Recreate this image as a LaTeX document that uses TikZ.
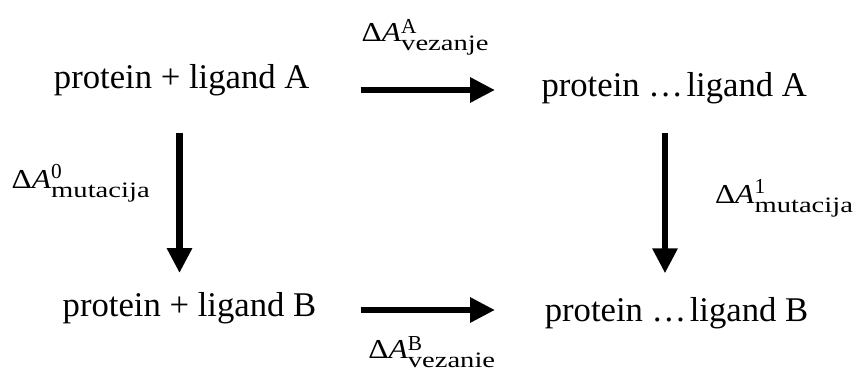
\documentclass[tikz,border=0pt]{standalone}
\usepackage{fontspec}
\setmainfont{Liberation Serif}
\newfontfamily\lblfont[FakeStretch=1.15]{Liberation Serif}
\newfontfamily\subfont[FakeStretch=1.3]{Liberation Serif}
\usetikzlibrary{arrows.meta}
\newcommand{\dAlbl}[3]{{\fontsize{20.5}{24}\lblfont Δ\textit{A}}\rlap{\raisebox{#3}{\fontsize{16}{18}\selectfont #1}}\raisebox{-6.75pt}{\fontsize{16.5}{18}\subfont #2}}
\begin{document}
\begin{tikzpicture}[x=0.75pt,y=-0.75pt,
  every node/.style={inner sep=0pt,outer sep=0pt},
  term/.style={font=\fontsize{26}{30}\selectfont, anchor=base},
  lbl/.style={anchor=base west},
  arr/.style={line width=4.6pt, line cap=butt, -{Triangle[length=18.75pt,width=18pt]}}]
\useasboundingbox (0,0) rectangle (856,372);
\node[term] (pA) at (181.7,88.3) {protein + ligand A};
\node[term] (cA) at (674.2,96) {protein …\hspace{0.1em}ligand A};
\node[term] (pB) at (189.5,316.7) {protein + ligand B};
\node[term] (cB) at (676.5,321.7) {protein …\hspace{0.1em}ligand B};
\coordinate (t1) at (360.7,90);
\coordinate (t2) at (495,90);
\coordinate (b1) at (360.7,310);
\coordinate (b2) at (495,310);
\coordinate (l1) at (179.5,132.7);
\coordinate (l2) at (179.5,273);
\coordinate (r1) at (665,132.7);
\coordinate (r2) at (665,273.3);
\draw[arr] (t1) -- (t2);
\draw[arr] (b1) -- (b2);
\draw[arr] (l1) -- (l2);
\draw[arr] (r1) -- (r2);
\node[lbl] (lt) at (361.7,41.7) {\dAlbl{A}{vezanje}{6.3pt}};
\node[lbl] (ll) at (11.7,188) {\dAlbl{0}{mutacija}{7.3pt}};
\node[lbl] (lr) at (715,203) {\dAlbl{1}{mutacija}{7.3pt}};
\node[lbl] (lb) at (368.3,358.5) {\dAlbl{B}{vezanie}{6.3pt}};
\end{tikzpicture}
\end{document}
